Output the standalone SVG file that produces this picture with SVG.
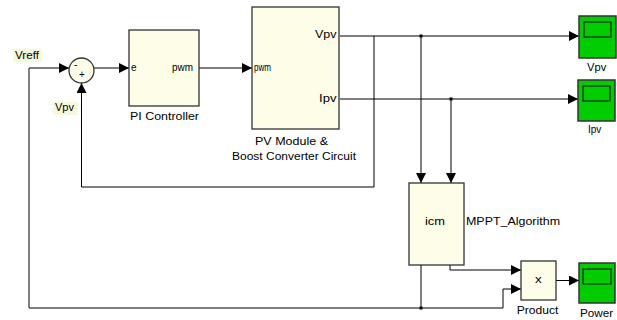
<svg xmlns="http://www.w3.org/2000/svg" width="617" height="320" viewBox="0 0 617 320">
<style>
text{font-family:"Liberation Sans",Arial,sans-serif;font-size:10px;fill:#000}
.blk{fill:#fdfde8;stroke:#333;stroke-width:1.3}
.scope{fill:#00cc00;stroke:#333;stroke-width:1.5}
.scr{fill:#00cc00;stroke:#000;stroke-width:1}
.lbl{fill:#f7f9dc}
.w{fill:none;stroke:#000;stroke-width:1}
.dot{fill:#000}
</style>
<defs>
<marker id="ah" markerUnits="userSpaceOnUse" markerWidth="10" markerHeight="10" refX="10" refY="5" orient="auto">
<path d="M0,0 L10,5 L0,10 z" fill="#000"/>
</marker>
</defs>
<rect width="617" height="320" fill="#fff"/>

<g id="connectors">
<path class="w" d="M421,265 V308 H29 V68 H69" marker-end="url(#ah)"/>
<path class="w" d="M421,308 H503 V289 H521" marker-end="url(#ah)"/>
<path class="w" d="M374,36 V187 H81.5 V83" marker-end="url(#ah)"/>
<path class="w" d="M94,68 H129" marker-end="url(#ah)"/>
<path class="w" d="M199,68 H252" marker-end="url(#ah)"/>
<path class="w" d="M340,36 H579" marker-end="url(#ah)"/>
<path class="w" d="M421,36 V183" marker-end="url(#ah)"/>
<path class="w" d="M340,99 H578" marker-end="url(#ah)"/>
<path class="w" d="M451,99 V183" marker-end="url(#ah)"/>
<path class="w" d="M450,265 V270 H521" marker-end="url(#ah)"/>
<path class="w" d="M556,280.5 H579" marker-end="url(#ah)"/>
<rect class="dot" x="419.5" y="34.5" width="3" height="3"/>
<rect class="dot" x="449.5" y="97.5" width="3" height="3"/>
<rect class="dot" x="419.5" y="306.5" width="3" height="3"/>
</g>

<g id="vreff">
<rect class="lbl" x="13" y="49" width="29" height="13"/>
<text x="15" y="59" textLength="24" lengthAdjust="spacingAndGlyphs">Vreff</text>
</g>
<g id="vpv-label">
<rect class="lbl" x="53" y="102" width="25" height="13"/>
<text x="55" y="111" textLength="19" lengthAdjust="spacingAndGlyphs">Vpv</text>
</g>

<g id="sum">
<circle cx="81.5" cy="70.5" r="12.5" fill="#fdfde8" stroke="#333" stroke-width="1.3"/>
<text x="74" y="68" font-size="9">-</text>
<text x="79" y="77.5" font-size="9">+</text>
</g>

<g id="pi-controller">
<rect class="blk" x="129" y="30" width="70" height="76"/>
<text x="131" y="71">e</text>
<text x="172" y="71" textLength="21" lengthAdjust="spacingAndGlyphs">pwm</text>
<text x="130" y="120" textLength="69" lengthAdjust="spacingAndGlyphs">PI Controller</text>
</g>

<g id="pv-module">
<rect class="blk" x="252" y="7" width="87" height="122"/>
<text x="254" y="71" textLength="17" lengthAdjust="spacingAndGlyphs">pwm</text>
<text x="315" y="38" textLength="21.5" lengthAdjust="spacingAndGlyphs">Vpv</text>
<text x="319" y="101.5" textLength="17.5" lengthAdjust="spacingAndGlyphs">Ipv</text>
<text x="255" y="145" textLength="73" lengthAdjust="spacingAndGlyphs">PV Module &amp;</text>
<text x="232" y="160" textLength="124" lengthAdjust="spacingAndGlyphs">Boost Converter Circuit</text>
</g>

<g id="scope-vpv">
<rect class="scope" x="579" y="16" width="37" height="42"/>
<rect class="scr" x="584" y="22" width="27" height="15"/>
<text x="587" y="71" textLength="19.3" lengthAdjust="spacingAndGlyphs">Vpv</text>
</g>

<g id="scope-ipv">
<rect class="scope" x="578" y="80" width="37" height="41"/>
<rect class="scr" x="583" y="86" width="27" height="15"/>
<text x="588" y="133.3">Ipv</text>
</g>

<g id="mppt">
<rect class="blk" x="409" y="183" width="55" height="82"/>
<text x="425" y="225" textLength="20" lengthAdjust="spacingAndGlyphs">icm</text>
<text x="466" y="225" textLength="94" lengthAdjust="spacingAndGlyphs">MPPT_Algorithm</text>
</g>

<g id="product">
<rect class="blk" x="521" y="261" width="35" height="39"/>
<text x="535" y="283" textLength="6.7" lengthAdjust="spacingAndGlyphs">x</text>
<text x="516.7" y="314" textLength="41.6" lengthAdjust="spacingAndGlyphs">Product</text>
</g>

<g id="scope-power">
<rect class="scope" x="579" y="263" width="36" height="40"/>
<rect class="scr" x="583" y="269" width="28" height="15"/>
<text x="580" y="317" textLength="33.3" lengthAdjust="spacingAndGlyphs">Power</text>
</g>
</svg>
